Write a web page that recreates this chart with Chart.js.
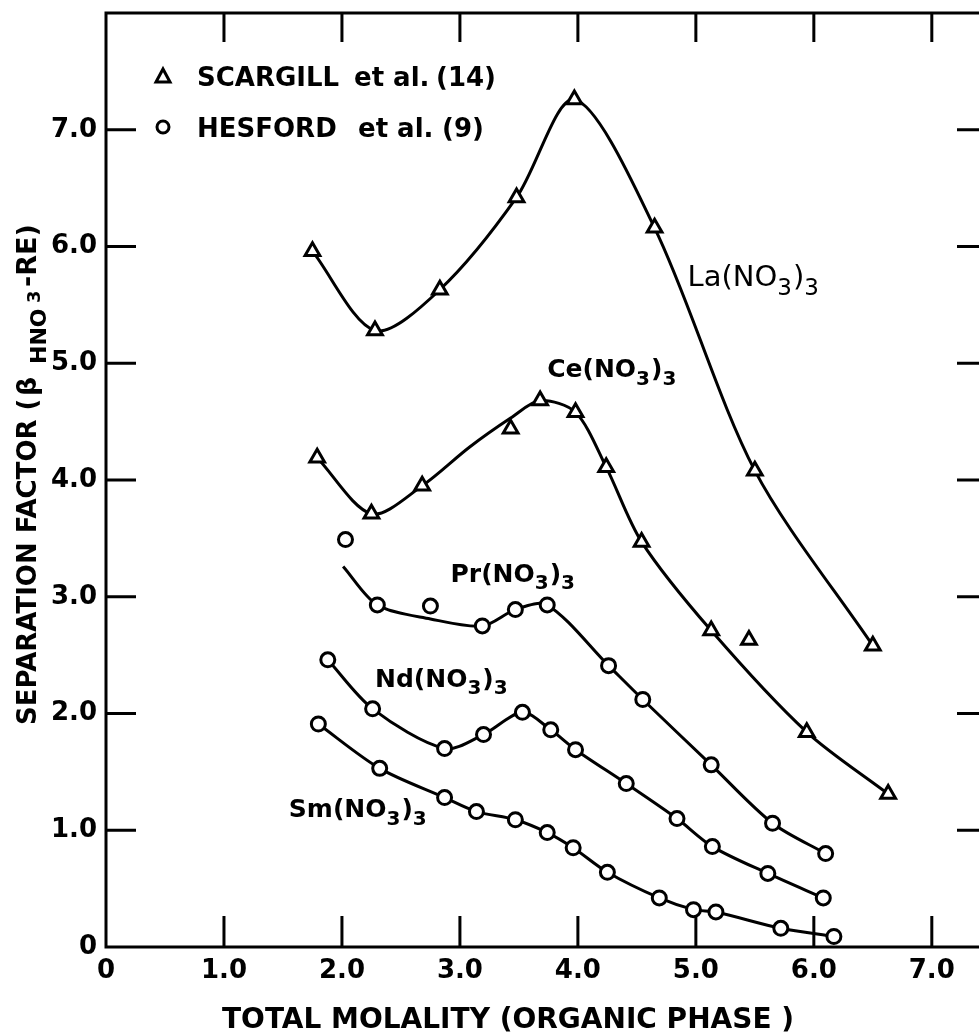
<!DOCTYPE html>
<html>
<head>
<meta charset="utf-8">
<script src="https://cdn.jsdelivr.net/npm/chart.js@4.4.0/dist/chart.umd.min.js"></script>
<style>
  html, body { margin: 0; padding: 0; background: #fff; overflow: hidden; }
  canvas { display: block; }
</style>
</head>
<body>
<canvas id="chart" width="979" height="1036"></canvas>
<script>
// Scargill et al. (triangles)
var laX = [1.75, 2.28, 2.83, 3.48, 3.97, 4.65, 5.50, 6.50];
var laY = [5.96, 5.28, 5.63, 6.42, 7.26, 6.16, 4.08, 2.58];

var ceX = [1.79, 2.25, 2.68, 3.43, 3.68, 3.98, 4.24, 4.54, 5.13, 5.45, 5.94, 6.63];
var ceY = [4.19, 3.71, 3.95, 4.44, 4.68, 4.58, 4.11, 3.47, 2.71, 2.63, 1.84, 1.31];
// drawn curve for Ce (misses two of the points)
var ceCurveX = [1.79, 2.25, 2.68, 3.08, 3.43, 3.68, 3.98, 4.24, 4.54, 5.13, 5.94, 6.63];
var ceCurveY = [4.19, 3.71, 3.95, 4.28, 4.53, 4.68, 4.58, 4.11, 3.47, 2.71, 1.84, 1.31];

// Hesford et al. (circles)
var prX = [2.03, 2.30, 2.75, 3.19, 3.47, 3.74, 4.26, 4.55, 5.13, 5.65, 6.10];
var prY = [3.49, 2.93, 2.92, 2.75, 2.89, 2.93, 2.41, 2.12, 1.56, 1.06, 0.80];
var prCurveX = [2.01, 2.30, 2.75, 3.19, 3.47, 3.74, 4.26, 4.55, 5.13, 5.65, 6.10];
var prCurveY = [3.26, 2.93, 2.81, 2.75, 2.89, 2.93, 2.41, 2.12, 1.56, 1.06, 0.80];

var ndX = [1.88, 2.26, 2.87, 3.20, 3.53, 3.77, 3.98, 4.41, 4.84, 5.14, 5.61, 6.08];
var ndY = [2.46, 2.04, 1.70, 1.82, 2.01, 1.86, 1.69, 1.40, 1.10, 0.86, 0.63, 0.42];

var smX = [1.80, 2.32, 2.87, 3.14, 3.47, 3.74, 3.96, 4.25, 4.69, 4.98, 5.17, 5.72, 6.17];
var smY = [1.91, 1.53, 1.28, 1.16, 1.09, 0.98, 0.85, 0.64, 0.42, 0.32, 0.30, 0.16, 0.09];

var xTicks = [0, 1, 2, 3, 4, 5, 6, 7];
var yTicks = [0, 1, 2, 3, 4, 5, 6, 7];

var FONT = 'DejaVu Sans';

function pts(xs, ys) {
  return xs.map(function(x, i) { return {x: x, y: ys[i]}; });
}

function curve(xs, ys) {
  return {
    data: pts(xs, ys),
    showLine: true,
    borderColor: '#000',
    borderWidth: 3,
    pointRadius: 0,
    tension: 0.3,
    order: 2
  };
}

function marks(xs, ys, style) {
  return {
    data: pts(xs, ys),
    showLine: false,
    pointStyle: style,
    pointRadius: style === 'triangle' ? 8.5 : 7,
    pointBorderWidth: 3,
    pointBorderColor: '#000',
    pointBackgroundColor: '#fff',
    order: 1
  };
}

function drawChem(ctx, parts, x, y, size, weight) {
  parts.forEach(function(p, i) {
    var sub = i % 2 === 1;
    var s = sub ? Math.round(size * 0.8) : size;
    ctx.font = weight + ' ' + s + 'px "' + FONT + '"';
    ctx.fillText(p, x, y + (sub ? size * 0.3 : 0));
    x += ctx.measureText(p).width + (sub ? 1 : 0);
  });
}

var decor = {
  id: 'decor',
  afterDraw: function(chart) {
    var ctx = chart.ctx, a = chart.chartArea;
    var sx = chart.scales.x, sy = chart.scales.y;
    ctx.save();
    ctx.strokeStyle = '#000';
    ctx.fillStyle = '#000';
    ctx.lineWidth = 3;

    // frame: the right side of the scan is cut off at the page edge
    ctx.beginPath();
    ctx.moveTo(a.right + 5, a.top); ctx.lineTo(a.left, a.top);
    ctx.lineTo(a.left, a.bottom); ctx.lineTo(a.right + 5, a.bottom);
    ctx.stroke();

    // inward ticks on all four sides
    ctx.beginPath();
    xTicks.slice(1).forEach(function(v) {
      var px = sx.getPixelForValue(v);
      ctx.moveTo(px, a.bottom); ctx.lineTo(px, a.bottom - 31);
      ctx.moveTo(px, a.top); ctx.lineTo(px, a.top + 29);
    });
    yTicks.slice(1).forEach(function(v) {
      var py = sy.getPixelForValue(v);
      ctx.moveTo(a.left, py); ctx.lineTo(a.left + 30, py);
      ctx.moveTo(a.right + 5, py); ctx.lineTo(a.right - 22, py);
    });
    ctx.stroke();

    // key
    ctx.beginPath();
    ctx.moveTo(163, 69); ctx.lineTo(170, 82); ctx.lineTo(156, 82); ctx.closePath();
    ctx.stroke();
    ctx.beginPath();
    ctx.arc(163, 127, 6, 0, Math.PI * 2);
    ctx.stroke();
    ctx.textBaseline = 'alphabetic';
    ctx.textAlign = 'left';
    ctx.font = 'bold 26px "' + FONT + '"';
    ctx.fillText('SCARGILL', 197, 86);
    ctx.fillText('et al.', 354, 86);
    ctx.fillText('(14)', 436, 86);
    ctx.fillText('HESFORD', 197, 137);
    ctx.fillText('et al.', 358, 137);
    ctx.fillText('(9)', 442, 137);

    // curve labels
    var labels = [
      {parts: ['La(NO', '3', ')', '3'], x: 4.93, y: 5.66, size: 29, weight: 'normal'},
      {parts: ['Ce(NO', '3', ')', '3'], x: 3.74, y: 4.88, size: 25, weight: 'bold'},
      {parts: ['Pr(NO', '3', ')', '3'], x: 2.92, y: 3.13, size: 25, weight: 'bold'},
      {parts: ['Nd(NO', '3', ')', '3'], x: 2.28, y: 2.23, size: 25, weight: 'bold'},
      {parts: ['Sm(NO', '3', ')', '3'], x: 1.55, y: 1.11, size: 25, weight: 'bold'}
    ];
    labels.forEach(function(l) {
      drawChem(ctx, l.parts, sx.getPixelForValue(l.x), sy.getPixelForValue(l.y), l.size, l.weight);
    });

    // x-axis title
    ctx.font = 'bold 28px "' + FONT + '"';
    ctx.fillText('TOTAL MOLALITY (ORGANIC PHASE )', 222, 1028);

    // y-axis title, rotated, reading upward
    ctx.translate(36, 0);
    ctx.rotate(-Math.PI / 2);
    var pieces = [
      {t: 'SEPARATION FACTOR (', at: 725, size: 26, dy: 0, style: 'bold'},
      {t: '\u03B2', at: 396, size: 27, dy: 0, style: 'bold'},
      {t: 'HNO', at: 364, size: 22, dy: 10, style: 'bold'},
      {t: '3', at: 303, size: 18, dy: 4, style: 'bold'},
      {t: '-RE)', at: 287, size: 27, dy: 0, style: 'bold'}
    ];
    pieces.forEach(function(p) {
      ctx.font = p.style + ' ' + p.size + 'px "' + FONT + '"';
      ctx.fillText(p.t, -p.at, p.dy);
    });
    ctx.restore();
  }
};

function keepTicks(list) {
  return function(scale) {
    scale.ticks = list.map(function(v) { return {value: v}; });
  };
}

function noPad(scale) {
  scale.paddingTop = 0; scale.paddingBottom = 0;
  scale.paddingLeft = 0; scale.paddingRight = 0;
}

var ctx = document.getElementById('chart').getContext('2d');

new Chart(ctx, {
  type: 'scatter',
  data: {
    datasets: [
      curve(laX, laY), marks(laX, laY, 'triangle'),
      curve(ceCurveX, ceCurveY), marks(ceX, ceY, 'triangle'),
      curve(prCurveX, prCurveY), marks(prX, prY, 'circle'),
      curve(ndX, ndY), marks(ndX, ndY, 'circle'),
      curve(smX, smY), marks(smX, smY, 'circle')
    ]
  },
  options: {
    responsive: false,
    animation: false,
    events: [],
    layout: { autoPadding: false, padding: { left: 0, top: 13, right: 0, bottom: 0 } },
    plugins: {
      legend: { display: false },
      tooltip: { enabled: false }
    },
    scales: {
      x: {
        type: 'linear',
        min: 0,
        max: 7.4,
        afterBuildTicks: keepTicks(xTicks),
        afterFit: function(scale) { scale.height = 89; noPad(scale); },
        grid: { display: false, drawTicks: false },
        border: { display: false },
        ticks: {
          padding: 9,
          color: '#000',
          font: { family: FONT, size: 26, weight: 'bold' },
          callback: function(v) { return v === 0 ? '0' : v.toFixed(1); }
        }
      },
      y: {
        type: 'linear',
        min: 0,
        max: 8,
        afterBuildTicks: keepTicks(yTicks),
        afterFit: function(scale) { scale.width = 106; noPad(scale); },
        grid: { display: false, drawTicks: false },
        border: { display: false },
        ticks: {
          padding: 9,
          color: '#000',
          font: { family: FONT, size: 26, weight: 'bold' },
          callback: function(v) { return v === 0 ? '0' : v.toFixed(1); }
        }
      }
    }
  },
  plugins: [decor]
});
</script>
</body>
</html>
